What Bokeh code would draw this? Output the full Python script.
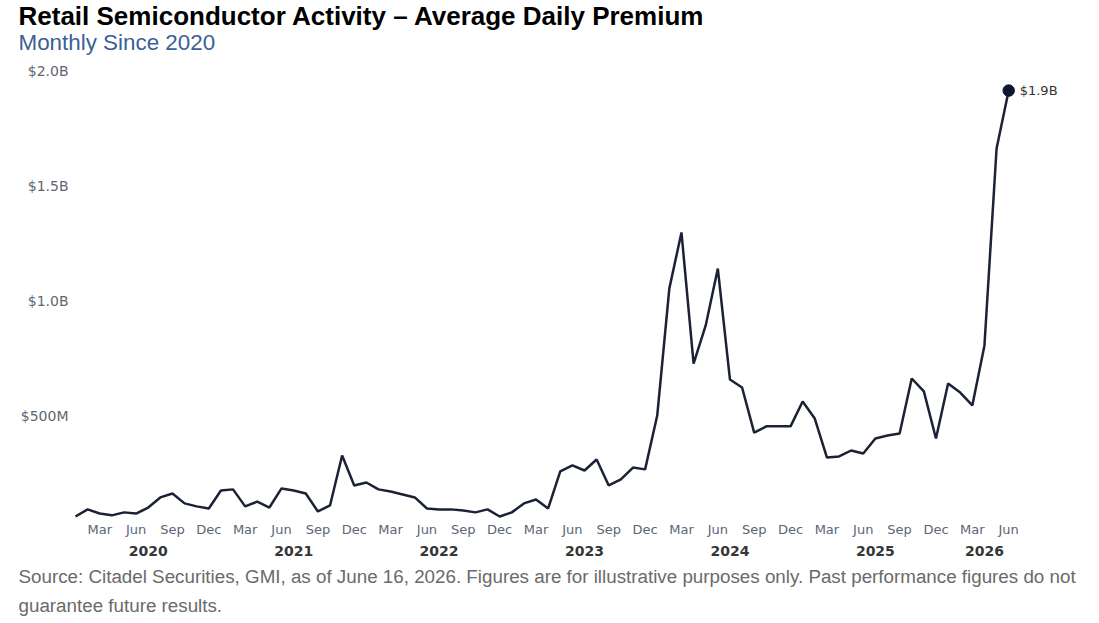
from bokeh.plotting import figure
from bokeh.models import Range1d, FixedTicker, LinearAxis, Title, Label, ColumnDataSource
from bokeh.embed import file_html
from bokeh.resources import INLINE

# ---- data (monthly, Jan 2020 .. Jun 2026), values in $ billions ----
start_year = 2020
start_month = 1
premium_b = [
    0.065, 0.096, 0.078, 0.070, 0.083, 0.078, 0.104, 0.148, 0.165, 0.122, 0.109, 0.100,  # 2020
    0.178, 0.183, 0.109, 0.130, 0.104, 0.187, 0.178, 0.165, 0.087, 0.113, 0.330, 0.200,  # 2021
    0.213, 0.183, 0.174, 0.161, 0.148, 0.100, 0.096, 0.096, 0.091, 0.083, 0.096, 0.065,  # 2022
    0.083, 0.122, 0.139, 0.100, 0.261, 0.287, 0.265, 0.313, 0.200, 0.226, 0.278, 0.270,  # 2023
    0.504, 1.057, 1.300, 0.730, 0.896, 1.143, 0.661, 0.626, 0.430, 0.457, 0.457, 0.457,  # 2024
    0.565, 0.491, 0.322, 0.326, 0.352, 0.339, 0.404, 0.417, 0.426, 0.665, 0.609, 0.404,  # 2025
    0.643, 0.604, 0.548, 0.809, 1.665, 1.917,                                            # 2026
]
tick_month_numbers = [3, 6, 9, 12]
tick_month_names = ["Mar", "Jun", "Sep", "Dec"]
year_labels = ["2020", "2021", "2022", "2023", "2024", "2025", "2026"]
y_ticks = [0.5, 1.0, 1.5, 2.0]
y_tick_labels = ["$500M", "$1.0B", "$1.5B", "$2.0B"]
last_label = "$1.9B"

title_text = "Retail Semiconductor Activity \u2013 Average Daily Premium"
subtitle_text = "Monthly Since 2020"
source_line1 = ("Source: Citadel Securities, GMI, as of June 16, 2026. Figures are for illustrative "
                "purposes only. Past performance figures do not")
source_line2 = "guarantee future results."

# ---- derived positions ----
n = len(premium_b)
xs = list(range(n))
month_of = [(start_month - 1 + i) % 12 + 1 for i in xs]
year_of = [start_year + (start_month - 1 + i) // 12 for i in xs]
name_of = dict(zip(tick_month_numbers, tick_month_names))
month_ticks = [i for i in xs if month_of[i] in name_of]
month_overrides = {i: name_of[month_of[i]] for i in month_ticks}

year_centers = []
year_overrides = {}
for lab in year_labels:
    yr = int(lab)
    idx = [i for i in xs if year_of[i] == yr]
    c = (idx[0] + idx[-1] + 1) / 2.0
    year_centers.append(c)
    year_overrides[c] = lab

src = ColumnDataSource(dict(x=xs, y=premium_b))

p = figure(width=1091, height=618, output_backend="svg", toolbar_location=None,
           x_range=Range1d(-0.4125, 82.1), y_range=Range1d(0.052, 2.026),
           min_border_left=70, min_border_right=21, min_border_top=65, min_border_bottom=99,
           background_fill_color="white", border_fill_color="white",
           outline_line_color=None)
p.xgrid.visible = False
p.ygrid.visible = False

line_color = "#1b2236"
p.line("x", "y", source=src, line_color=line_color, line_width=2.5)
p.scatter([xs[-1]], [premium_b[-1]], size=11.5, fill_color="#0f1733", line_color="#0f1733")
p.add_layout(Label(x=xs[-1], y=premium_b[-1], text=last_label, x_offset=11, y_offset=0,
                   text_baseline="middle", text_font="DejaVu Sans", text_font_size="13px",
                   text_color="#333333"))

# y axis
ya = p.yaxis[0]
ya.ticker = FixedTicker(ticks=y_ticks)
ya.major_label_overrides = dict(zip(y_ticks, y_tick_labels))
ya.axis_line_color = None
ya.major_tick_line_color = None
ya.minor_tick_line_color = None
ya.major_tick_out = 0
ya.major_tick_in = 0
ya.major_label_standoff = 2
ya.major_label_text_font = "DejaVu Sans"
ya.major_label_text_font_size = "14px"
ya.major_label_text_color = "#5f6672"

# x axis (months)
xa = p.xaxis[0]
xa.ticker = FixedTicker(ticks=month_ticks)
xa.major_label_overrides = month_overrides
xa.axis_line_color = None
xa.major_tick_line_color = None
xa.minor_tick_line_color = None
xa.major_tick_out = 0
xa.major_tick_in = 0
xa.major_label_standoff = 2
xa.major_label_text_font = "DejaVu Sans"
xa.major_label_text_font_size = "13px"
xa.major_label_text_color = "#5b6577"

# second axis (years)
ya2 = LinearAxis(ticker=FixedTicker(ticks=year_centers), major_label_overrides=year_overrides,
                 axis_line_color=None, major_tick_line_color=None, minor_tick_line_color=None,
                 major_tick_out=0, major_tick_in=0,
                 major_label_standoff=6, major_label_text_font="DejaVu Sans",
                 major_label_text_font_size="14px", major_label_text_font_style="bold",
                 major_label_text_color="#363636")
p.add_layout(ya2, "below")

# titles: a thin spacer next to the frame, then the subtitle, then the title
spacer = Title(text=" ", align="left", offset=0, standoff=8.25,
               text_font="Liberation Sans", text_font_size="1px")
sub = Title(text=subtitle_text, align="left", offset=-52, standoff=0,
            text_font="Liberation Sans", text_font_size="22.4px", text_font_style="normal",
            text_color="#3b5f96")
main = Title(text=title_text, align="left", offset=-52, standoff=-6.5,
             text_font="Liberation Sans", text_font_size="26px", text_font_style="bold",
             text_color="#000000")
p.add_layout(spacer, "above")
p.add_layout(sub, "above")
p.add_layout(main, "above")

# footnote
f1 = Title(text=source_line1, align="left", offset=-52, standoff=11,
           text_font="Liberation Sans", text_font_size="18.8px", text_font_style="normal",
           text_color="#6a6a6a")
f2 = Title(text=source_line2, align="left", offset=-52, standoff=1,
           text_font="Liberation Sans", text_font_size="18.8px", text_font_style="normal",
           text_color="#6a6a6a")
p.add_layout(f1, "below")
p.add_layout(f2, "below")

open("out.html", "w").write(file_html(p, INLINE))
